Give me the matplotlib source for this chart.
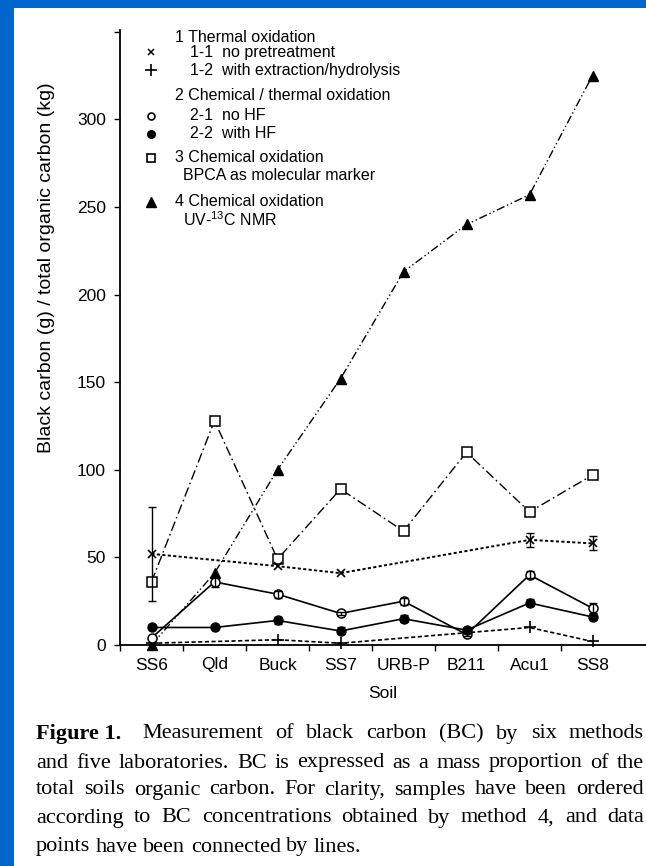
import numpy as np
import matplotlib
matplotlib.use('Agg')
import matplotlib.pyplot as plt
from matplotlib.lines import Line2D
from matplotlib.patches import Rectangle

plt.rcParams['font.family'] = ['Liberation Sans', 'DejaVu Sans']
plt.rcParams['mathtext.fontset'] = 'custom'
plt.rcParams['mathtext.rm'] = 'Liberation Sans'

# Black carbon per total organic carbon, g/kg, by soil sample and method
soils = ['SS6', 'Qld', 'Buck', 'SS7', 'URB-P', 'B211', 'Acu1', 'SS8']
nan = np.nan
m11 = [52, nan, 45, 41, nan, nan, 60, 58]          # thermal, no pretreatment
m11_err = [27, 0, 0, 0, 0, 0, 4, 4]
m12 = [1, nan, 3, 1, nan, nan, 10, 2]              # thermal, extraction/hydrolysis
m21 = [4, 36, 29, 18, 25, 6, 40, 21]               # chem/thermal, no HF
m21_err = [0, 3, 2, 1, 2, 1, 2, 3]
m22 = [10, 10, 14, 8, 15, 8.5, 24, 16]             # chem/thermal, with HF
m22_err = [0, 0, 2, 2, 2, 0, 2, 0]
m3 = [36, 128, 49, 89, 65, 110, 76, 97]            # BPCA marker
m4 = [0, 41, 100, 152, 213, 240, 257, 325]         # UV / 13C NMR

yticks = [0, 50, 100, 150, 200, 250, 300]

W, H = 646, 866
fig = plt.figure(figsize=(W / 100, H / 100), dpi=100)
fig.patch.set_facecolor('#0066cc')
fig.add_artist(Rectangle((14 / W, 0), 1, 1 - 8 / H, transform=fig.transFigure,
                         facecolor='white', edgecolor='none', zorder=-5))


def fx(x):
    return x / W


def fy(y):
    return 1 - y / H


ax = fig.add_axes([fx(120), fy(645), (W - 120) / W, (645 - 30) / H])
ax.set_facecolor('none')
x = np.arange(len(soils))


def draw(vals, err=None, **kw):
    vals = np.array(vals, dtype=float)
    ok = ~np.isnan(vals)
    ax.plot(x[ok], vals[ok], color='black', clip_on=False, **kw)
    if err is not None:
        err = np.array(err, dtype=float)
        has = ok & (err > 0)
        ax.errorbar(x[has], vals[has], yerr=err[has], fmt='none', ecolor='black',
                    elinewidth=1.0, capsize=3, capthick=1.0, clip_on=False)


draw(m4, marker='^', ms=7, mfc='black', mec='black', lw=1.0, dashes=(6, 2, 1, 2, 1, 2))
draw(m3, marker='s', ms=6.5, mfc='white', mec='black', mew=1.1, lw=1.0, dashes=(7, 2.5, 1.2, 2.5))
draw(m11, m11_err, marker='x', ms=6, mew=1.2, lw=1.4, dashes=(1.6, 1.2))
draw(m12, marker='+', ms=8, mew=1.2, lw=1.2, dashes=(2.5, 1.5))
draw(m21, m21_err, marker='o', ms=6.5, mfc='white', mec='black', mew=1.1, lw=1.2)
draw(m22, m22_err, marker='o', ms=6.5, mfc='black', mec='black', lw=1.2)

ax.set_xlim(-0.5, (W - 120) / 63 - 0.5)
ax.set_ylim(0, 351)
ax.spines['top'].set_visible(False)
ax.spines['right'].set_visible(False)
for s in ('left', 'bottom'):
    ax.spines[s].set_linewidth(1.3)

ax.set_xticks(x)
ax.set_xticklabels(soils, fontsize=12.5)
ax.set_xticks(x - 0.5, minor=True)
ax.tick_params(axis='x', which='major', length=0, pad=9)
ax.tick_params(axis='x', which='minor', length=4, width=1, direction='out')
ax.set_yticks(yticks)
ax.set_yticklabels([str(v) for v in yticks], fontsize=12.5)
ax.set_yticks([350], minor=True)
ax.tick_params(axis='y', which='both', length=4, width=1, direction='out', pad=6)
ax.set_xlabel('Soil', fontsize=12.5, labelpad=10)
ax.set_ylabel('Black carbon (g) / total organic carbon (kg)', fontsize=14)
ax.yaxis.set_label_coords((55 - 120) / (W - 120), (645 - 268) / (645 - 30))

# method key, upper left inside the plot
mk_x = 151
key = [
    (None, '1 Thermal oxidation', 175, 37),
    (dict(marker='x', ms=5, mew=1.1, color='black'), '1-1  no pretreatment', 190, 52),
    (dict(marker='+', ms=8, mew=1.2, color='black'), '1-2  with extraction/hydrolysis', 190, 70),
    (None, '2 Chemical / thermal oxidation', 175, 95),
    (dict(marker='o', ms=5, mfc='white', mec='black', mew=1.2), '2-1  no HF', 190, 116),
    (dict(marker='o', ms=5.5, mfc='black', mec='black'), '2-2  with HF', 190, 134),
    (dict(marker='s', ms=5.5, mfc='white', mec='black', mew=1.2), '3 Chemical oxidation', 175, 158),
    (None, 'BPCA as molecular marker', 183, 176),
    (dict(marker='^', ms=6.5, mfc='black', mec='black'), '4 Chemical oxidation', 175, 202),
    (None, 'UV-$^{13}$C NMR', 183, 220),
]
for style, label, tx, ty in key:
    if style is not None:
        fig.add_artist(Line2D([fx(mk_x)], [fy(ty)], transform=fig.transFigure,
                              linestyle='none', **style))
    fig.text(fx(tx), fy(ty), label, fontsize=11.5, va='center', ha='left')

# caption, justified to the right edge
caption = [
    ['Measurement', 'of', 'black', 'carbon', '(BC)', 'by', 'six', 'methods'],
    'and five laboratories. BC is expressed as a mass proportion of the'.split(),
    'total soils organic carbon. For clarity, samples have been ordered'.split(),
    'according to BC concentrations obtained by method 4, and data'.split(),
    'points have been connected by lines.'.split(),
]
cap_y = [734, 763, 790, 818, 847]
renderer = fig.canvas.get_renderer()
cap_kw = dict(fontsize=16, family='Liberation Serif', va='center', ha='left')
fig.text(fx(36), fy(cap_y[0]), 'Figure 1.', fontweight='bold', **cap_kw)
for i, words in enumerate(caption):
    left = 142 if i == 0 else 36
    texts = [fig.text(0, fy(cap_y[i]), w, **cap_kw) for w in words]
    widths = [t.get_window_extent(renderer).width for t in texts]
    if i < len(caption) - 1:
        gap = max(3.5, (644 - left - sum(widths)) / (len(words) - 1))
    else:
        gap = 5.5
    pos = left
    for t, w in zip(texts, widths):
        t.set_x(fx(pos))
        pos += w + gap

fig.savefig('out.png', dpi=100, facecolor=fig.get_facecolor())
